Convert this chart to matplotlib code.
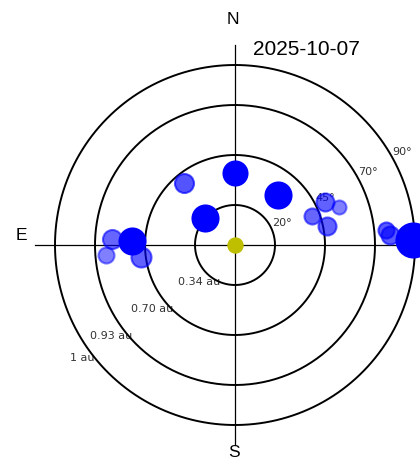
import matplotlib
matplotlib.use("Agg")
import matplotlib.pyplot as plt
import numpy as np

# sky chart: x/y offsets from zenith in degrees (E is to the left)
obj_x = [0.0, -25.5, 21.5, -15.0, 45.0, 52.0, 38.5, 46.0, 75.5, 77.5, 89.0, -61.5, -51.5, -47.0, -64.5]
obj_y = [36.0, 31.0, 25.0, 13.5, 21.5, 19.0, 14.5, 9.5, 7.5, 5.0, 2.5, 3.0, 2.0, -6.0, -5.0]
obj_r = [12, 9.5, 13, 13, 9, 7, 8, 9, 8, 9, 17, 9.5, 13, 10, 8]
obj_alpha = [1, .67, 1, 1, .62, .5, .6, .62, .65, .65, 1, .6, 1, .62, .5]

zenith_rings = [20, 45, 70, 90]
dist_labels = ["0.34 au", "0.70 au", "0.93 au", "1 au"]
dist_pos = [(-18, -18.5), (-41.5, -32), (-62, -45.5), (-76.5, -56.5)]
date = "2025-10-07"

W, H = 420, 461
fig = plt.figure(figsize=(W / 100, H / 100), dpi=100)
ax = fig.add_axes([0, 0, 1, 1])
ax.set_xlim(-235 / 2, (W - 235) / 2)
ax.set_ylim(-(H - 245) / 2, 245 / 2)
ax.set_aspect("equal")
ax.axis("off")

t = np.linspace(0, 2 * np.pi, 400)
ang = np.deg2rad(30.5)
for z in zenith_rings:
    ax.plot(z * np.cos(t), z * np.sin(t), color="black", lw=1.4, zorder=2)
    ax.text((z + 1.5) * np.cos(ang), (z + 1.5) * np.sin(ang), f"{z}°",
            fontsize=8, color="#333333", ha="left", va="center", zorder=1)

ax.plot([-100, 100], [0, 0], color="black", lw=0.9, zorder=2)
ax.plot([0, 0], [-100, 100], color="black", lw=0.9, zorder=2)

for lab, (x, y) in zip(dist_labels, dist_pos):
    ax.text(x, y, lab, fontsize=8, color="#333333", ha="center", va="center", zorder=1)

ax.text(-1, 112.5, "N", fontsize=12.5, ha="center", va="center", family="Liberation Sans")
ax.text(-0.5, -103.5, "S", fontsize=12.5, ha="center", va="center", family="Liberation Sans")
ax.text(-107, 5, "E", fontsize=12.5, ha="center", va="center", family="Liberation Sans")
ax.text(35.5, 97.5, date, fontsize=15, ha="center", va="center", family="Liberation Sans")

ax.scatter([0], [0], s=(1.44 * 7.5) ** 2, color="y", zorder=3)
for x, y, r, a in zip(obj_x, obj_y, obj_r, obj_alpha):
    ax.scatter([x], [y], s=(1.44 * r) ** 2, color="blue", alpha=a,
               linewidths=1.5, edgecolors="blue", zorder=4)

fig.savefig("out.png", dpi=100)
